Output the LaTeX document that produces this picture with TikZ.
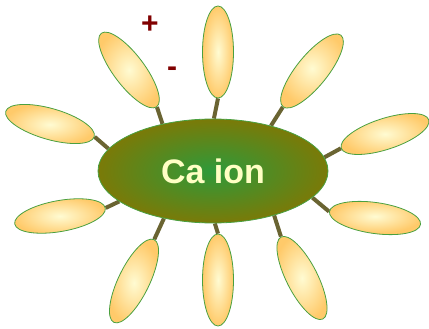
\documentclass[tikz,border=0pt]{standalone}
\usepackage{fontspec}
\setmainfont{Liberation Sans}
\usetikzlibrary{shapes.geometric,backgrounds}
\definecolor{IonOuter}{HTML}{7A7A08}
\definecolor{IonInner}{HTML}{2E9A3A}
\definecolor{IonText}{HTML}{FFFFC4}
\definecolor{PetalEdge}{HTML}{FFCA6A}
\definecolor{PetalCore}{HTML}{FFFBD2}
\definecolor{PetalLine}{HTML}{4AA040}
\definecolor{StemCol}{HTML}{6A6432}
\definecolor{SignCol}{HTML}{800000}
\tikzset{ion/.style={ellipse,draw=PetalLine,line width=0.8pt,inner color=IonInner,outer color=IonOuter,minimum width=230pt,minimum height=104pt,font=\bfseries\fontsize{34}{40}\selectfont,text=IonText},
petal/.style={ellipse,draw=PetalLine,line width=0.8pt,inner color=PetalCore,outer color=PetalEdge,minimum width=92pt,minimum height=31pt,inner sep=0pt},
stem/.style={draw=StemCol,line width=4pt},
sign/.style={text=SignCol,font=\bfseries\fontsize{30}{34}\selectfont,inner sep=0pt}}
\begin{document}
\begin{tikzpicture}[x=1pt,y=-1pt]
\useasboundingbox (0,0) rectangle (429,329);
\node[ion] (ion) at (213,171) {Ca ion};
\node[petal,rotate=127] (p1) at (129,70) {};\node[petal,rotate=90] (p2) at (218,52) {};\node[petal,rotate=51] (p3) at (312,71) {};
\node[petal,rotate=18] (p4) at (385,134) {};\node[petal,rotate=-8] (p5) at (375,218) {};\node[petal,rotate=-63] (p6) at (302,278) {};
\node[petal,rotate=-90] (p7) at (218,280) {};\node[petal,rotate=244] (p8) at (134,281) {};\node[petal,rotate=190] (p9) at (60,216) {};\node[petal,rotate=164] (p10) at (50,124) {};
\node[sign] (plus) at (150,25) {+};\node[sign] (minus) at (172,72) {-};
\begin{scope}[on background layer]
\draw[stem] (p1.west)--(ion.137);\draw[stem] (p2.west)--(ion.89);\draw[stem] (p3.west)--(ion.38);\draw[stem] (p4.west)--(ion.7);\draw[stem] (p5.west)--(ion.-15);
\draw[stem] (p6.west)--(ion.-36);\draw[stem] (p7.west)--(ion.-88);\draw[stem] (p8.west)--(ion.224);\draw[stem] (p9.west)--(ion.198);\draw[stem] (p10.west)--(ion.168);
\end{scope}
\end{tikzpicture}
\end{document}
